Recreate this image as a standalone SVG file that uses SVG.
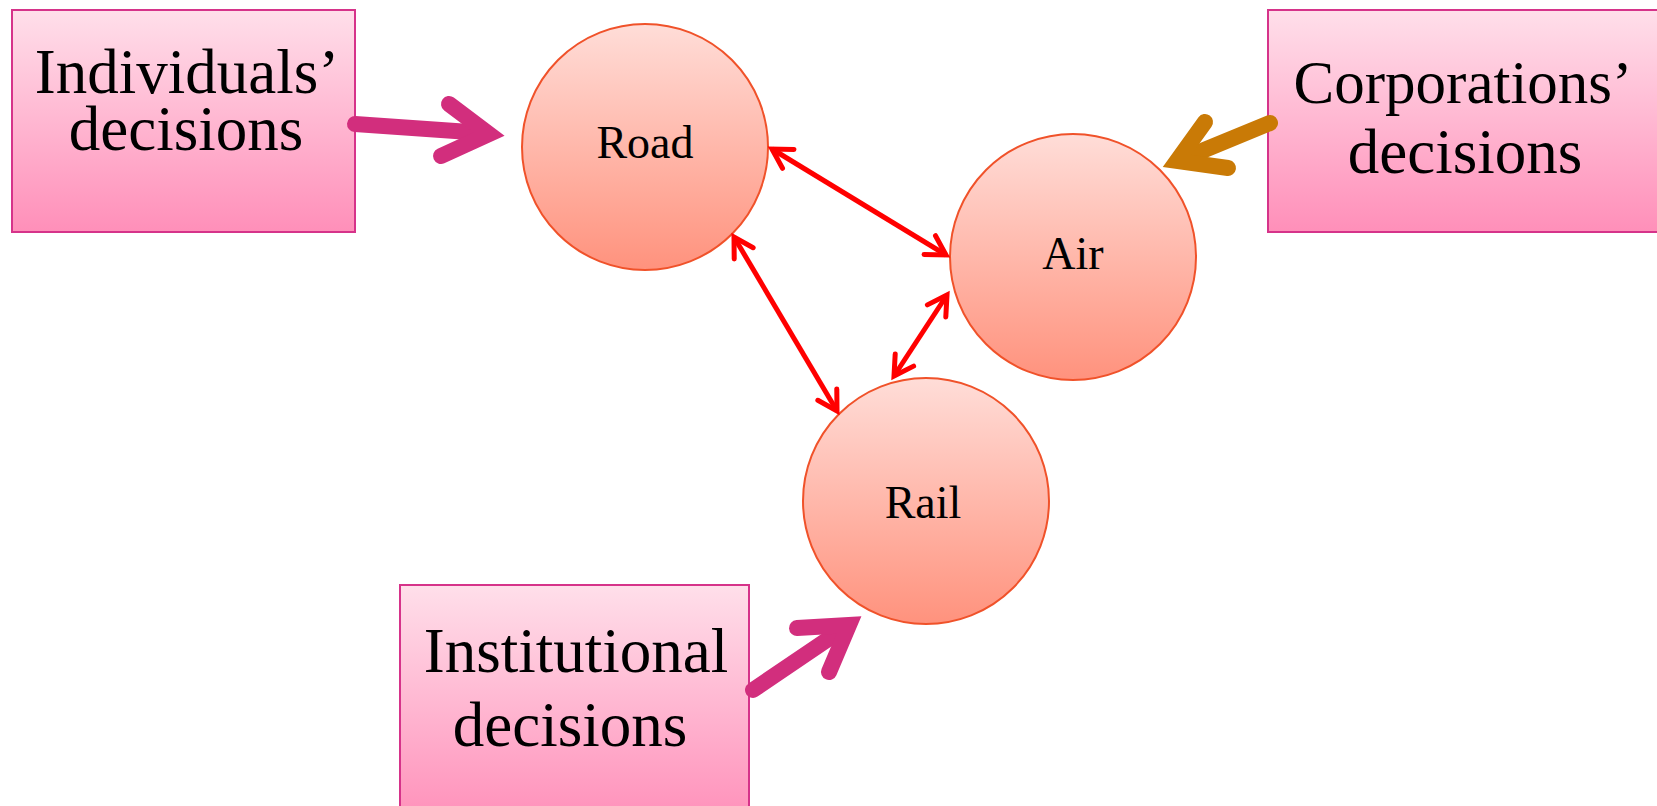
<svg xmlns="http://www.w3.org/2000/svg" width="1657" height="806" viewBox="0 0 1657 806">
<style>
.box{stroke:#D6338A;stroke-width:2;fill:url(#gBox)}
.circ{stroke:#F0522A;stroke-width:2;fill:url(#gCirc)}
.big{font-family:"Liberation Serif","Times New Roman",serif;font-size:63px;fill:#000;text-anchor:middle}
.small{font-family:"Liberation Serif","Times New Roman",serif;font-size:46px;fill:#000;text-anchor:middle}
.thick{fill:none;stroke-width:16;stroke-linecap:round;stroke-linejoin:miter}
.thin{fill:none;stroke:#FF0000;stroke-width:5;marker-start:url(#chev);marker-end:url(#chev)}
</style>
<defs>
<linearGradient id="gBox" x1="0" y1="0" x2="0" y2="1">
<stop offset="0" stop-color="#FFDFEA"/>
<stop offset="1" stop-color="#FF8FB9"/>
</linearGradient>
<linearGradient id="gCirc" x1="0" y1="0" x2="0" y2="1">
<stop offset="0" stop-color="#FFDDD8"/>
<stop offset="1" stop-color="#FF927D"/>
</linearGradient>
<marker id="chev" markerUnits="userSpaceOnUse" markerWidth="40" markerHeight="40" viewBox="-30 -20 40 40" refX="0" refY="0" orient="auto-start-reverse" overflow="visible">
<path d="M-19,-11 L0,0 L-19,11" fill="none" stroke="#FF0000" stroke-width="5" stroke-linecap="round" stroke-linejoin="miter"/>
</marker>
</defs>

<g id="individuals">
<rect class="box" x="12" y="10" width="343" height="222"/>
<text class="big" x="187" y="93">Individuals’</text>
<text class="big" x="186" y="150">decisions</text>
</g>

<g id="corporations">
<rect class="box" x="1268" y="10" width="400" height="222"/>
<text class="big" x="1463" y="103" style="font-size:61px">Corporations’</text>
<text class="big" x="1465" y="173">decisions</text>
</g>

<g id="institutional">
<rect class="box" x="400" y="585" width="349" height="240"/>
<text class="big" x="576" y="672">Institutional</text>
<text class="big" x="570" y="746">decisions</text>
</g>

<g id="road">
<circle class="circ" cx="645" cy="147" r="123"/>
<text class="small" x="645" y="158">Road</text>
</g>

<g id="air">
<circle class="circ" cx="1073" cy="257" r="123"/>
<text class="small" x="1073" y="269">Air</text>
</g>

<g id="rail">
<circle class="circ" cx="926" cy="501" r="123"/>
<text class="small" x="923" y="518">Rail</text>
</g>

<g id="connectors">
<path class="thick" stroke="#D22E7D" stroke-linecap="butt" d="M355,124 L484,133"/>
<path class="thick" stroke="#D22E7D" d="M449,104 L489,134 L441,156"/>
<path class="thick" stroke="#C97A06" stroke-linecap="butt" d="M1270,123 L1180,160"/>
<path class="thick" stroke="#C97A06" d="M1205,122 L1177,161 L1228,168"/>
<path class="thick" stroke="#D22E7D" stroke-linecap="butt" d="M753,690 L846,627"/>
<path class="thick" stroke="#D22E7D" d="M797,628 L849,625 L829,672"/>
<path class="thin" d="M772,149 L946,255"/>
<path class="thin" d="M734,237 L837,411"/>
<path class="thin" d="M947,295 L894,376"/>
</g>
</svg>
